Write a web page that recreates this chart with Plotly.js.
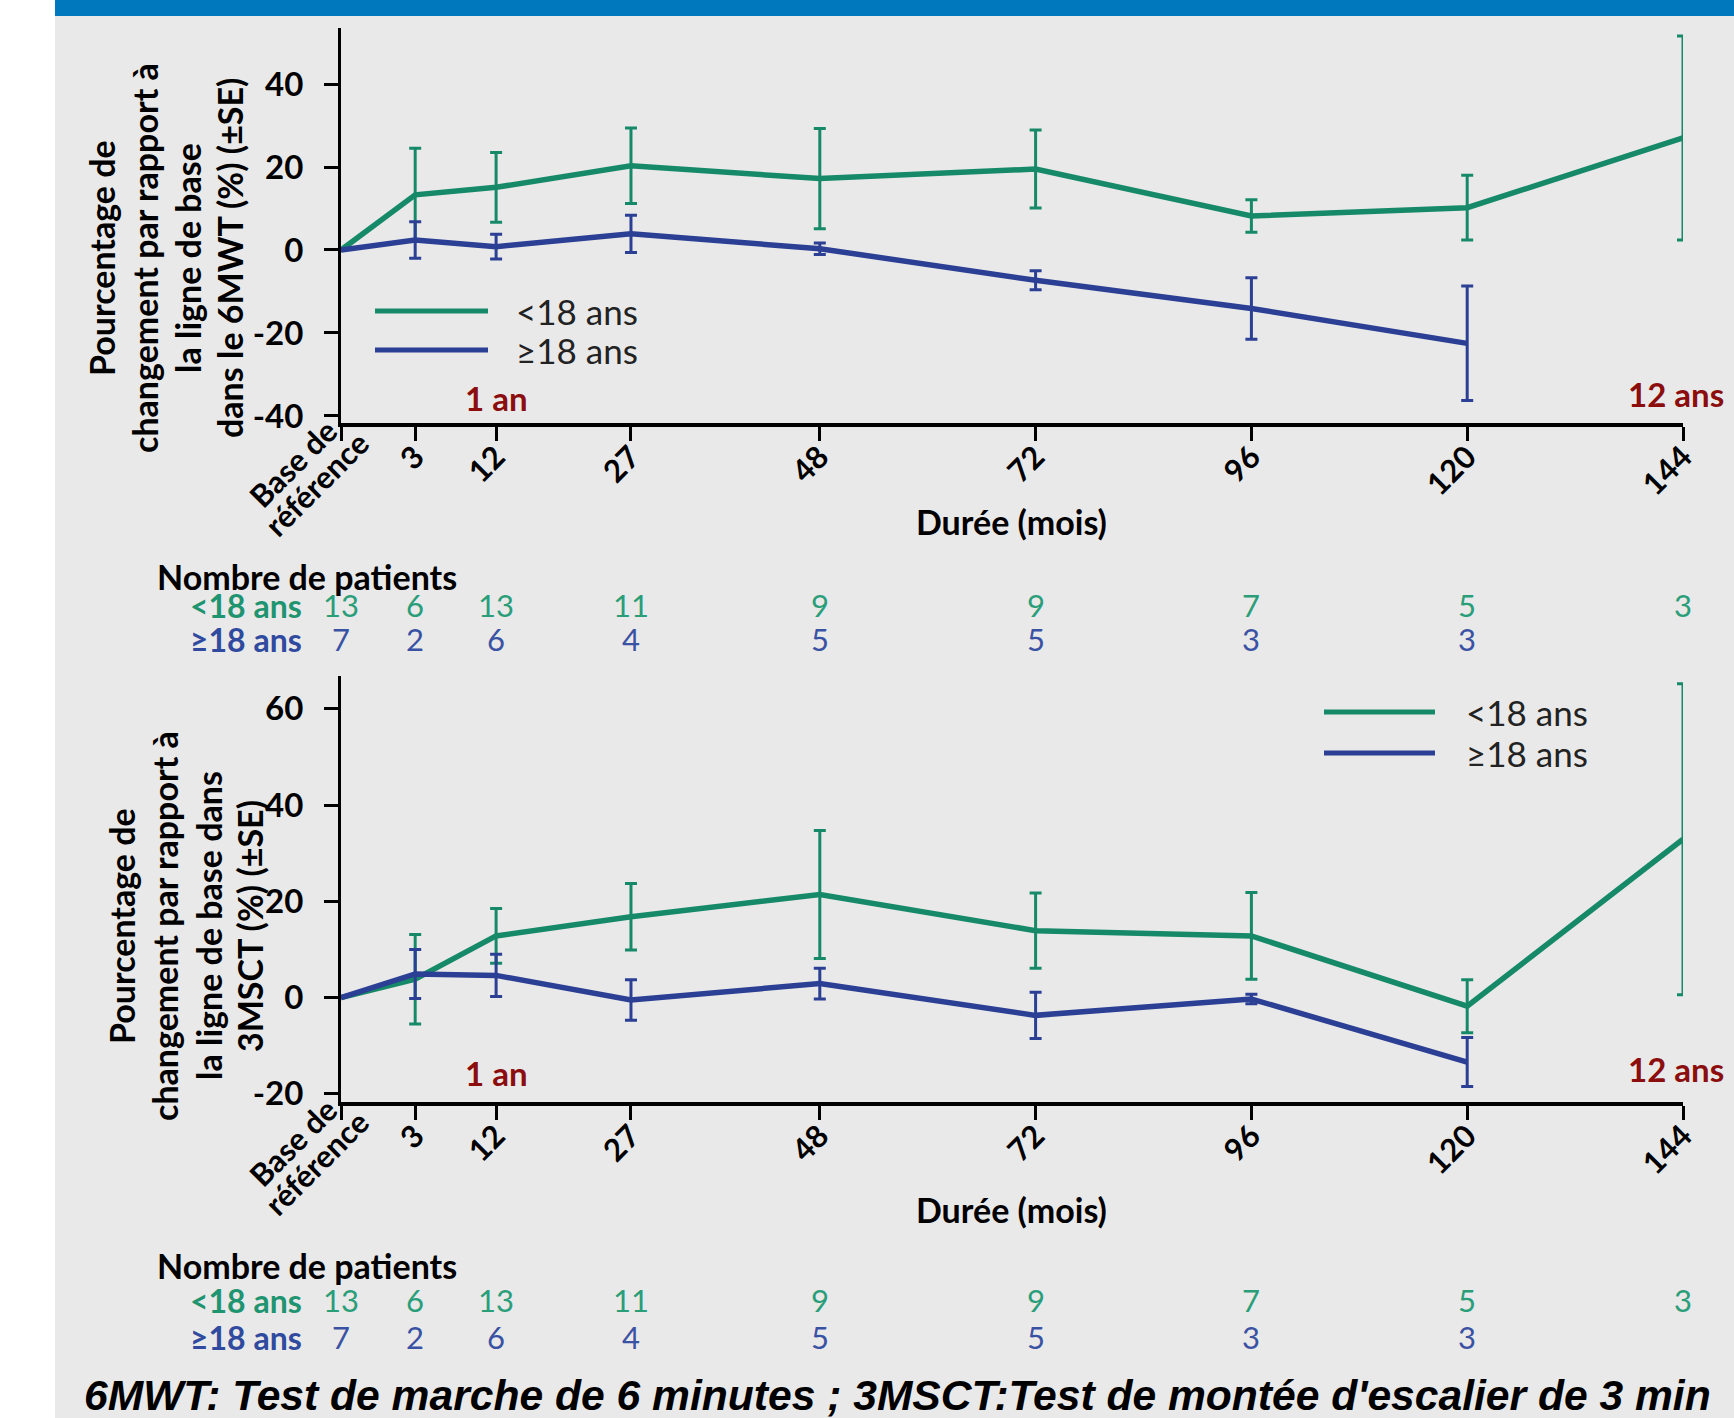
<!DOCTYPE html>
<html><head><meta charset="utf-8">
<script src="https://cdn.plot.ly/plotly-3.0.1.min.js"></script>
<style>html,body{margin:0;padding:0;background:#fff;}#chart{width:1734px;height:1418px;}</style>
</head><body><div id="chart"></div>
<script>
// ---------- data ----------
const monthLabels = ["Base de<br>référence", "3", "12", "27", "48", "72", "96", "120", "144"];
const months = [0, 3, 12, 27, 48, 72, 96, 120, 144];
const groupNames = ["&lt;18 ans", "≥18 ans"];

// 6MWT : % change from baseline (±SE)
const mwtUnder18 = [0, 13.3, 15.1, 20.3, 17.2, 19.5, 8.2, 10.2, 27.0];
const mwtUnder18SE = [0, 11.2, 8.4, 9.1, 12.1, 9.4, 3.9, 7.8, 24.6];
const mwtOver18 = [0, 2.4, 0.8, 3.9, 0.3, -7.3, -14.1, -22.5];
const mwtOver18SE = [0, 4.4, 3.0, 4.5, 1.4, 2.3, 7.4, 13.8];
const mwtTicks = [-40, -20, 0, 20, 40];

// 3MSCT : % change from baseline (±SE)
const sctUnder18 = [0, 3.8, 12.8, 16.8, 21.4, 13.9, 12.8, -1.8, 32.9];
const sctUnder18SE = [0, 9.3, 5.7, 6.9, 13.3, 7.8, 9.0, 5.5, 32.3];
const sctOver18 = [0, 4.9, 4.6, -0.5, 2.9, -3.7, -0.3, -13.4];
const sctOver18SE = [0, 5.1, 4.4, 4.2, 3.2, 4.8, 1.0, 5.1];
const sctTicks = [-20, 0, 20, 40, 60];

// number of patients
const patientsUnder18 = [13, 6, 13, 11, 9, 9, 7, 5, 3];
const patientsOver18 = [7, 2, 6, 4, 5, 5, 3, 3];

// ---------- layout helpers ----------
const W = 1734, H = 1418;
const px = v => v / W;
const py = v => 1 - v / H;
const BASE_X = -5.25;               // baseline drawn at the axis origin
const X_MAX = 144;
const xPos = months.map(m => m === 0 ? BASE_X : m);

const GREEN = '#168a68', BLUE = '#2b3f94';
const GREEN_TXT = '#2a9e79', BLUE_TXT = '#3a52a3', DARKRED = '#8b0d0d';
const FONT = 'Lato, "Open Sans", sans-serif';

function series(y, se, color, xa, ya, name) {
  return {
    type: 'scatter', mode: 'lines', name: name,
    x: xPos.slice(0, y.length), y: y,
    xaxis: xa, yaxis: ya, cliponaxis: false, showlegend: false,
    line: {color: color, width: 5.5},
    error_y: {type: 'data', array: se, visible: true, color: color, thickness: 3, width: 6}
  };
}

const traces = [
  series(mwtUnder18, mwtUnder18SE, GREEN, 'x', 'y', groupNames[0]),
  series(mwtOver18, mwtOver18SE, BLUE, 'x', 'y', groupNames[1]),
  series(sctUnder18, sctUnder18SE, GREEN, 'x2', 'y2', groupNames[0]),
  series(sctOver18, sctOver18SE, BLUE, 'x2', 'y2', groupNames[1])
];

function xAxis(anchor) {
  return {
    domain: [px(341), px(1683)], anchor: anchor,
    range: [BASE_X, X_MAX], tickmode: 'array', tickvals: xPos,
    ticktext: monthLabels.map((t, i) => i === 0 ? '' : t),   // baseline label drawn below as two lines
    tickangle: -45, ticks: 'outside', ticklen: 14, tickwidth: 3, tickcolor: '#000',
    showline: true, linewidth: 3.5, linecolor: '#000', showgrid: false, zeroline: false,
    ticklabelstandoff: -14,
    tickfont: {family: FONT, size: 31, color: '#000', weight: 700}
  };
}
function yAxis(anchor, dom, range, ticks) {
  return {
    domain: dom, anchor: anchor, range: range,
    tickmode: 'array', tickvals: ticks, ticktext: ticks.map(String),
    ticks: 'outside', ticklen: 14, tickwidth: 3, tickcolor: '#000',
    showline: true, linewidth: 3, linecolor: '#000', showgrid: false, zeroline: false,
    ticklabelstandoff: 14,
    tickfont: {family: FONT, size: 33, color: '#000', weight: 700}
  };
}

const annotations = [];
function txt(text, x, y, opts) {
  annotations.push(Object.assign({
    text: text, x: x, y: y, xref: 'paper', yref: 'paper', showarrow: false,
    xanchor: 'center', yanchor: 'middle',
    font: {family: FONT, size: 34, color: '#000'}
  }, opts || {}));
}

// y-axis titles (one annotation per line)
const yTitleTop = ["Pourcentage de", "changement par rapport à", "la ligne de base", "dans le 6MWT (%) (±SE)"];
const yTitleBot = ["Pourcentage de", "changement par rapport à", "la ligne de base dans", "3MSCT (%) (±SE)"];
[102, 145, 188, 230].forEach((x, i) => txt('<b>' + yTitleTop[i] + '</b>', px(x), py(258), {textangle: -90}));
[121, 164, 208, 249].forEach((x, i) => txt('<b>' + yTitleBot[i] + '</b>', px(x), py(926), {textangle: -90}));

// baseline tick label, two rotated lines
[423, 1102].forEach(axisY => {
  const parts = monthLabels[0].split('<br>');
  txt('<b>' + parts[0] + '</b>', px(293), py(axisY + 40), {textangle: -45, font: {family: FONT, size: 31, color: '#000'}});
  txt('<b>' + parts[1] + '</b>', px(316), py(axisY + 61), {textangle: -45, font: {family: FONT, size: 31, color: '#000'}});
});

// x-axis titles
txt('<b>Durée (mois)</b>', px(1011), py(521));
txt('<b>Durée (mois)</b>', px(1011), py(1209));

// year markers
[['x', 398], ['x2', 1073]].forEach(([xa, yy]) => {
  annotations.push({text: '<b>1 an</b>', x: 12, xref: xa, y: py(yy), yref: 'paper', showarrow: false,
    xanchor: 'center', yanchor: 'middle', font: {family: FONT, size: 33, color: DARKRED}});
  txt('<b>12 ans</b>', px(1726), py(yy - 4), {xanchor: 'right', font: {family: FONT, size: 33, color: DARKRED}});
});

// background / header band
const shapes = [
  {type: 'rect', xref: 'paper', yref: 'paper', x0: px(55), x1: 1, y0: 0, y1: py(16), fillcolor: '#e9e9e9', line: {width: 0}, layer: 'below'},
  {type: 'rect', xref: 'paper', yref: 'paper', x0: px(55), x1: 1, y0: py(16), y1: 1, fillcolor: '#0078be', line: {width: 0}, layer: 'below'}
];
// legends (drawn manually)
function legend(x0, x1, yG, yB, xt) {
  shapes.push({type: 'line', xref: 'paper', yref: 'paper', x0: px(x0), x1: px(x1), y0: py(yG), y1: py(yG), line: {color: GREEN, width: 5}});
  shapes.push({type: 'line', xref: 'paper', yref: 'paper', x0: px(x0), x1: px(x1), y0: py(yB), y1: py(yB), line: {color: BLUE, width: 5}});
  txt(groupNames[0], px(xt), py(yG), {xanchor: 'left', font: {family: FONT, size: 35, color: '#222'}});
  txt(groupNames[1], px(xt), py(yB), {xanchor: 'left', font: {family: FONT, size: 35, color: '#222'}});
}
legend(375, 488, 311, 350, 514);
legend(1324, 1435, 712, 753, 1464);

// patient counts
function counts(xa, yHead, yG, yB) {
  txt('<b>Nombre de patients</b>', px(155), py(yHead), {xanchor: 'left'});
  txt('<b>' + groupNames[0] + '</b>', px(304), py(yG), {xanchor: 'right', font: {family: FONT, size: 32, color: '#1f9470'}});
  txt('<b>' + groupNames[1] + '</b>', px(304), py(yB), {xanchor: 'right', font: {family: FONT, size: 32, color: '#2f4a9e'}});
  patientsUnder18.forEach((n, i) => annotations.push({text: String(n), x: xPos[i], xref: xa, y: py(yG), yref: 'paper',
    showarrow: false, xanchor: 'center', yanchor: 'middle', font: {family: FONT, size: 31, color: GREEN_TXT}}));
  patientsOver18.forEach((n, i) => annotations.push({text: String(n), x: xPos[i], xref: xa, y: py(yB), yref: 'paper',
    showarrow: false, xanchor: 'center', yanchor: 'middle', font: {family: FONT, size: 31, color: BLUE_TXT}}));
}
counts('x', 577, 605, 639);
counts('x2', 1265, 1300, 1337);

// footnote
txt('<b><i>6MWT: Test de marche de 6 minutes ; 3MSCT:Test de montée d\'escalier de 3 min</i></b>', px(897), py(1395),
  {font: {family: '"Liberation Sans", Arial, sans-serif', size: 42.6, color: '#000'}});

const layout = {
  width: W, height: H, margin: {l: 0, r: 0, t: 0, b: 0},
  paper_bgcolor: '#ffffff', plot_bgcolor: 'rgba(0,0,0,0)',
  font: {family: FONT, color: '#000'},
  showlegend: false,
  xaxis: xAxis('y'),
  yaxis: yAxis('x', [py(423), py(28)], [-41.7, 53.5], mwtTicks),
  xaxis2: xAxis('y2'),
  yaxis2: yAxis('x2', [py(1102), py(676)], [-21.7, 66.8], sctTicks),
  shapes: shapes, annotations: annotations
};

Plotly.newPlot('chart', traces, layout, {displayModeBar: false, staticPlot: true});
</script>
</body></html>
